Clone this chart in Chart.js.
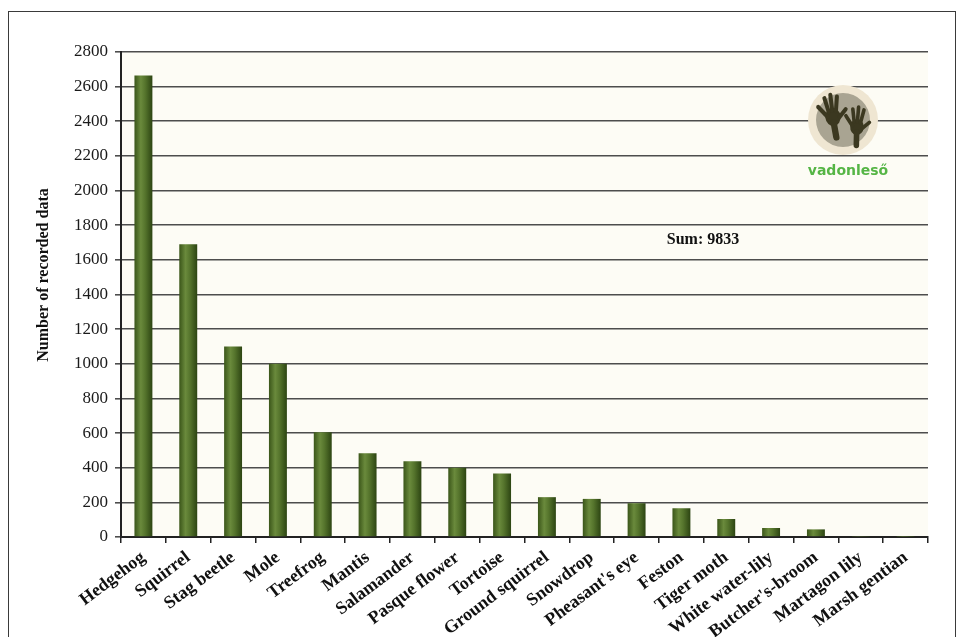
<!DOCTYPE html>
<html>
<head>
<meta charset="utf-8">
<script src="https://cdn.jsdelivr.net/npm/chart.js@4/dist/chart.umd.min.js"></script>
<style>
  html, body { margin: 0; padding: 0; background: #fff; }
  #wrap { position: relative; width: 960px; height: 637px; overflow: hidden; }
  #frame { position: absolute; left: 8px; top: 11px; width: 946px; height: 700px; border: 1.5px solid #3a3a3a; pointer-events: none; }
  canvas { position: absolute; left: 0; top: 0; }
</style>
</head>
<body>
<div id="wrap">
  <div id="frame"></div>
  <canvas id="grafico" width="960" height="637"></canvas>
</div>
<script>
// species and number of records
const species = ["Hedgehog", "Squirrel", "Stag beetle", "Mole", "Treefrog", "Mantis", "Salamander",
  "Pasque flower", "Tortoise", "Ground squirrel", "Snowdrop", "Pheasant's eye", "Feston",
  "Tiger moth", "White water-lily", "Butcher's-broom", "Martagon lily", "Marsh gentian"];
const records = [2665, 1690, 1100, 1000, 605, 484, 437, 400, 366, 230, 220, 195, 166, 104, 52, 44, 3, 2];
const yTicks = [0, 200, 400, 600, 800, 1000, 1200, 1400, 1600, 1800, 2000, 2200, 2400, 2600, 2800];
const sumLabel = "Sum: 9833";
const yTitle = "Number of recorded data";

const serif = "'Liberation Serif', 'Times New Roman', serif";

// cylinder-like shading across each bar
function barFill(ctx) {
  const chart = ctx.chart;
  const x = chart.scales.x;
  if (!x || ctx.dataIndex === undefined) return "#4e6b2a";
  const cx = x.getPixelForValue(ctx.dataIndex);
  if (!isFinite(cx)) return "#4e6b2a";
  const g = chart.ctx.createLinearGradient(cx - 9, 0, cx + 9, 0);
  g.addColorStop(0, "#3a5519");
  g.addColorStop(0.35, "#6a8a3c");
  g.addColorStop(0.6, "#55742c");
  g.addColorStop(1, "#2c4412");
  return g;
}

function drawHand(c, cx, cy, s, rot) {
  c.save();
  c.translate(cx, cy);
  c.rotate(rot);
  c.scale(s, s);
  c.fillStyle = "#3b3820";
  c.strokeStyle = "#3b3820";
  c.lineCap = "round";
  // palm
  c.beginPath();
  c.ellipse(0, 0, 8.5, 10, 0, 0, Math.PI * 2);
  c.fill();
  // wrist
  c.lineWidth = 7;
  c.beginPath();
  c.moveTo(0, 6);
  c.lineTo(1, 23);
  c.stroke();
  // fingers
  const fingers = [[-6, -1, -15, -13], [-4, -6, -7, -22], [0, -7, 0, -25], [4, -6, 7, -22], [7, 1, 15, -7]];
  c.lineWidth = 4.5;
  fingers.forEach(f => {
    c.beginPath();
    c.moveTo(f[0], f[1]);
    c.lineTo(f[2], f[3]);
    c.stroke();
  });
  c.restore();
}

const extras = {
  id: "extras",
  beforeDraw(chart) {
    const { ctx, chartArea: a } = chart;
    ctx.save();
    ctx.fillStyle = "#fdfcf5";
    ctx.fillRect(a.left, a.top, a.right - a.left, a.bottom - a.top);
    ctx.restore();
  },
  afterDraw(chart) {
    const ctx = chart.ctx;
    ctx.save();
    ctx.fillStyle = "#111";
    ctx.textAlign = "center";
    ctx.textBaseline = "middle";
    // y axis title
    ctx.save();
    ctx.translate(44, 275);
    ctx.rotate(-Math.PI / 2);
    ctx.font = "bold 16px " + serif;
    ctx.fillText(yTitle, 0, 0);
    ctx.restore();
    // sum
    ctx.font = "bold 16px " + serif;
    ctx.fillText(sumLabel, 703, 240);
    // logo
    ctx.fillStyle = "#efe6d2";
    ctx.beginPath();
    ctx.arc(843, 120, 35, 0, Math.PI * 2);
    ctx.fill();
    ctx.fillStyle = "#a9a492";
    ctx.beginPath();
    ctx.arc(843, 120, 27, 0, Math.PI * 2);
    ctx.fill();
    drawHand(ctx, 833, 117, 0.9, -0.12);
    drawHand(ctx, 857, 127, 0.8, 0.08);
    ctx.fillStyle = "#55b545";
    ctx.font = "bold 14px 'DejaVu Sans', sans-serif";
    ctx.fillText("vadonleső", 848, 171);
    ctx.restore();
  }
};

new Chart(document.getElementById("grafico"), {
  type: "bar",
  data: {
    labels: species,
    datasets: [{
      data: records,
      backgroundColor: barFill,
      borderWidth: 0,
      barPercentage: 0.4,
      categoryPercentage: 1
    }]
  },
  options: {
    responsive: false,
    animation: false,
    layout: { padding: { top: 52, right: 32, left: 0, bottom: 0 } },
    plugins: { legend: { display: false }, tooltip: { enabled: false } },
    scales: {
      x: {
        afterFit: s => { s.height = 100; },
        grid: { display: true, drawOnChartArea: false, drawTicks: true, tickLength: 6, offset: true, color: "#222", lineWidth: 1.5 },
        border: { display: true, color: "#222", width: 2 },
        ticks: {
          autoSkip: false, minRotation: 37, maxRotation: 37, padding: 4,
          color: "#111", font: { family: serif, size: 18, weight: "bold" }
        }
      },
      y: {
        min: 0,
        max: 2800,
        afterFit: s => { s.width = 121; },
        afterBuildTicks: s => { s.ticks = yTicks.map(v => ({ value: v })); },
        grid: { color: "#4d4d4d", lineWidth: 1.6, drawTicks: true, tickLength: 6 },
        border: { display: true, color: "#222", width: 2 },
        ticks: {
          padding: 7, color: "#1a1a1a", font: { family: serif, size: 17 },
          callback: v => String(v)
        }
      }
    }
  },
  plugins: [extras]
});
</script>
</body>
</html>
